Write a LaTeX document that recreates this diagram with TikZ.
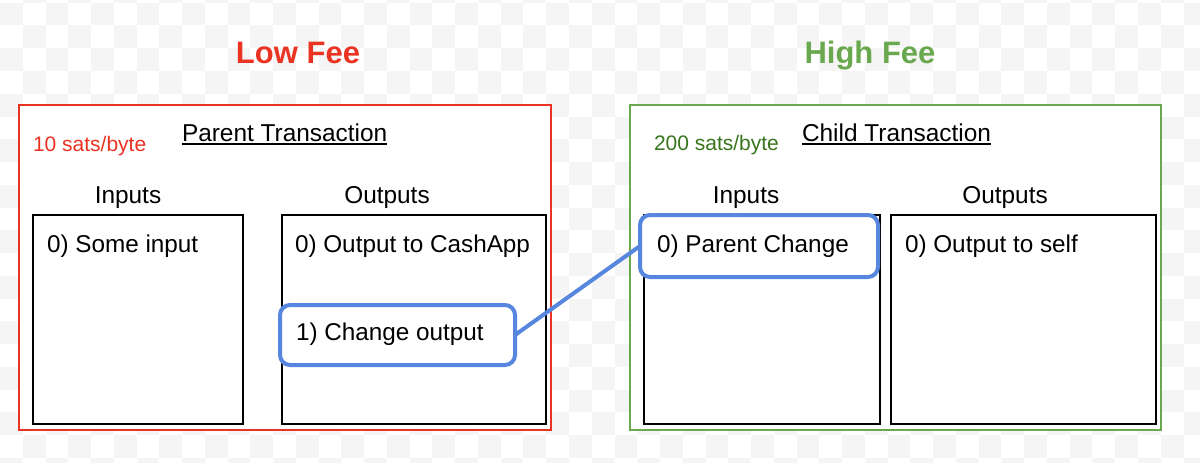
\documentclass[tikz,border=0pt]{standalone}
\usepackage{fontspec}
\setmainfont{Liberation Sans}
\definecolor{feered}{RGB}{234,51,35}
\definecolor{feegreen}{RGB}{106,168,79}
\definecolor{ratedark}{RGB}{56,118,29}
\definecolor{linkblue}{RGB}{86,134,222}
\definecolor{checkgray}{RGB}{245,245,245}
\begin{document}
\begin{tikzpicture}[x=1pt,y=-1pt,
  headfont/.style={font=\fontsize{31}{36}\selectfont\bfseries},
  ratefont/.style={font=\fontsize{21}{24}\selectfont},
  titlefont/.style={font=\fontsize{24.4}{28}\selectfont},
  entryfont/.style={font=\fontsize{24.3}{28}\selectfont},
  txt/.style={inner sep=0pt, outer sep=0pt},
  txframe/.style={draw, line width=2pt, fill=white, anchor=north west, inner sep=0pt, outer sep=0pt},
  listbox/.style={draw=black, line width=2.5pt, fill=white, anchor=north west, inner sep=0pt, outer sep=0pt},
  pickbox/.style={draw=linkblue, line width=4pt, rounded corners=10pt, fill=white, anchor=north west, inner sep=0pt, outer sep=0pt},
  link/.style={draw=linkblue, line width=4pt},
  uline/.style={line width=1.6pt}
]
\useasboundingbox (0,0) rectangle (1200,463);

% canvas checkerboard
\fill[white] (0,0) rectangle (1200,463);
\begin{scope}
  \clip (0,0) rectangle (1200,463);
  \foreach \i in {0,...,52}{
    \foreach \j in {-1,...,20}{
      \ifodd\numexpr\i+\j+2\relax\else
        \fill[checkgray] (\i*22.76, 2.7+\j*22.76) rectangle ++(22.76,22.76);
      \fi
    }
  }
\end{scope}

% headings
\node[txt, headfont, text=feered, anchor=base] (lowfee) at (298,63) {Low Fee};
\node[txt, headfont, text=feegreen, anchor=base] (highfee) at (870,63) {High Fee};

% transaction frames
\node[txframe, draw=feered, minimum width=532pt, minimum height=325pt] (parentframe) at (19,105) {};
\node[txframe, draw=feegreen, minimum width=531pt, minimum height=325pt] (childframe) at (630,105) {};

% frame captions
\node[txt, ratefont, text=feered, anchor=base west] (parentrate) at (33,151) {10 sats/byte};
\node[txt, titlefont, anchor=base west] (parenttitle) at (182,141) {Parent Transaction};
\draw[uline] ([yshift=-2.5pt]parenttitle.south west) -- ([yshift=-2.5pt]parenttitle.south east);
\node[txt, ratefont, text=ratedark, anchor=base west] (childrate) at (654,150) {200 sats/byte};
\node[txt, titlefont, anchor=base west] (childtitle) at (802,141) {Child Transaction};
\draw[uline] ([yshift=-2.5pt]childtitle.south west) -- ([yshift=-2.5pt]childtitle.south east);

% column headers
\node[txt, titlefont, anchor=base] (pinhead) at (128,203) {Inputs};
\node[txt, titlefont, anchor=base] (pouthead) at (387,203) {Outputs};
\node[txt, titlefont, anchor=base] (cinhead) at (746,203) {Inputs};
\node[txt, titlefont, anchor=base] (couthead) at (1005,203) {Outputs};

% input / output lists
\node[listbox, minimum width=210pt, minimum height=209pt] (pinbox) at (33,215) {};
\node[listbox, minimum width=264pt, minimum height=209pt] (poutbox) at (282,215) {};
\node[listbox, minimum width=236pt, minimum height=209pt] (cinbox) at (644,215) {};
\node[listbox, minimum width=265pt, minimum height=209pt] (coutbox) at (891,215) {};

% highlighted entries
\node[pickbox, minimum width=235pt, minimum height=60pt] (changeout) at (280,305) {};
\node[pickbox, minimum width=238pt, minimum height=62pt] (parentchange) at (640,215) {};

% entries
\node[txt, entryfont, anchor=base west] (pin0) at (47,252) {0) Some input};
\node[txt, entryfont, anchor=base west] (pout0) at (295,252) {0) Output to CashApp};
\node[txt, entryfont, anchor=base west] (pout1) at (296,340) {1) Change output};
\node[txt, entryfont, anchor=base west] (cin0) at (657,252) {0) Parent Change};
\node[txt, entryfont, anchor=base west] (cout0) at (905,252) {0) Output to self};

% spent output link
\draw[link] (changeout.east) -- (parentchange.west);
\end{tikzpicture}
\end{document}
